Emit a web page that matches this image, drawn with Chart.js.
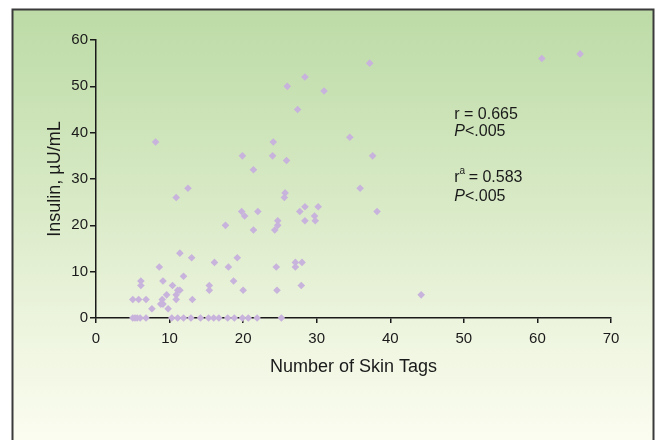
<!DOCTYPE html>
<html>
<head>
<meta charset="utf-8">
<script src="https://cdn.jsdelivr.net/npm/chart.js@4"></script>
<style>
  html, body { margin: 0; padding: 0; background: #fff; }
  #wrap { width: 657px; height: 440px; }
</style>
</head>
<body>
<div id="wrap"><canvas id="chart" width="657" height="440"></canvas></div>
<script>
/* ===== data ===== */
const skinTags = [
  65.8, 60.6, 37.2, 28.4, 26.0, 31.0, 27.4, 8.1, 34.5, 24.1,
  19.9, 24.0, 37.6, 25.9, 21.4, 12.5, 35.9, 25.7, 25.6, 10.9,
  30.2, 28.4, 27.7, 19.8, 22.0, 38.2, 29.7, 20.2, 24.7, 28.4,
  29.8, 24.7, 17.6, 21.4, 24.3, 11.4, 13.0, 19.2, 16.1, 27.1,
  28.0, 8.6, 18.0, 24.5, 27.1, 11.9, 6.1, 9.1, 18.7, 6.1,
  10.4, 15.4, 27.9, 11.1, 11.4, 15.4, 20.0, 24.6, 9.6, 10.9,
  44.2, 5.0, 5.8, 6.8, 10.9, 13.1, 9.0, 8.8, 9.1, 7.6,
  9.8,
  5.0, 5.3, 5.6, 6.0, 6.8, 10.3, 11.1, 11.9, 12.9, 14.2,
  15.3, 16.0, 16.7, 17.9, 18.8, 19.9, 20.7, 21.9, 25.2
];
const insulin = [
  57, 56, 55, 52, 50, 49, 45, 38, 39, 38,
  35, 35, 35, 34, 32, 28, 28, 27, 26, 26,
  24, 24, 23, 23, 23, 23, 22, 22, 21, 21,
  21, 20, 20, 19, 19, 14, 13, 13, 12, 12,
  12, 11, 11, 11, 11, 9, 8, 8, 8, 7,
  7, 7, 7, 6, 6, 6, 6, 6, 5, 5,
  5, 4, 4, 4, 4, 4, 4, 3, 3, 2,
  2,
  0, 0, 0, 0, 0, 0, 0, 0, 0, 0,
  0, 0, 0, 0, 0, 0, 0, 0, 0
];
const xTicks = [0, 10, 20, 30, 40, 50, 60, 70];
const yTicks = [0, 10, 20, 30, 40, 50, 60];
const statLines = [
  { main: "r = 0.665", sup: "", italicP: false },
  { main: "<.005", sup: "", italicP: true },
  { main: "r", sup: "a", rest: " = 0.583", italicP: false },
  { main: "<.005", sup: "", italicP: true }
];

const FONT = "'Liberation Sans', Arial, Helvetica, sans-serif";
const INK = "#1a1a1a";

/* ===== panel background ===== */
const panelBg = {
  id: "panelBg",
  beforeDraw(chart) {
    const ctx = chart.ctx;
    ctx.save();
    ctx.fillStyle = "#fff";
    ctx.fillRect(0, 0, chart.width, chart.height);
    const g = ctx.createLinearGradient(0, 9, 0, 440);
    g.addColorStop(0, "#bcdba6");
    g.addColorStop(0.4, "#d5e8c2");
    g.addColorStop(0.72, "#ecf4dd");
    g.addColorStop(1, "#fbfdf0");
    ctx.fillStyle = g;
    ctx.fillRect(12, 9, 641, 500);
    ctx.strokeStyle = "#3a3a3a";
    ctx.lineWidth = 2;
    ctx.strokeRect(12.5, 9.5, 641, 500);
    ctx.restore();
  }
};

/* ===== r / P annotations ===== */
const stats = {
  id: "stats",
  afterDraw(chart) {
    const { ctx, scales: { x, y } } = chart;
    const left = x.getPixelForValue(48.7);
    const baselines = [43.0, 39.2, 29.3, 25.2].map(v => y.getPixelForValue(v));
    ctx.save();
    ctx.fillStyle = INK;
    ctx.textBaseline = "alphabetic";
    ctx.textAlign = "left";
    statLines.forEach((ln, i) => {
      let cx = left;
      const by = baselines[i];
      if (ln.italicP) {
        ctx.font = "italic 16px " + FONT;
        ctx.fillText("P", cx, by);
        cx += ctx.measureText("P").width;
      }
      ctx.font = "16px " + FONT;
      ctx.fillText(ln.main, cx, by);
      cx += ctx.measureText(ln.main).width;
      if (ln.sup) {
        ctx.font = "10px " + FONT;
        ctx.fillText(ln.sup, cx, by - 8);
        cx += ctx.measureText(ln.sup).width - 1;
        ctx.font = "16px " + FONT;
        ctx.fillText(ln.rest, cx, by);
      }
    });
    ctx.restore();
  }
};

const axisCommon = {
  border: { display: true, color: INK, width: 1.5 },
  grid: { display: true, drawOnChartArea: false, drawTicks: true, color: INK, lineWidth: 1.5 }
};

new Chart(document.getElementById("chart"), {
  type: "scatter",
  data: {
    datasets: [{
      data: skinTags.map((v, i) => ({ x: v, y: insulin[i] })),
      pointStyle: "rectRot",
      pointRadius: 3.8,
      pointHoverRadius: 3.8,
      backgroundColor: "#c8b3dc",
      borderWidth: 0,
      clip: false
    }]
  },
  options: {
    responsive: false,
    animation: false,
    devicePixelRatio: 1,
    layout: { padding: { left: 0, top: 40, right: 46, bottom: 62 } },
    plugins: { legend: { display: false }, tooltip: { enabled: false } },
    scales: {
      x: {
        type: "linear",
        min: 0, max: 70,
        ...axisCommon,
        grid: { ...axisCommon.grid, tickLength: 5 },
        afterBuildTicks: s => { s.ticks = xTicks.map(v => ({ value: v })); },
        afterFit: s => { s.height = 60; },
        ticks: { color: INK, padding: 7, font: { family: FONT, size: 15 }, maxRotation: 0 },
        title: {
          display: true, text: "Number of Skin Tags", color: INK,
          font: { family: FONT, size: 18 }, padding: { top: 0, bottom: 0 }
        }
      },
      y: {
        type: "linear",
        min: 0, max: 60,
        ...axisCommon,
        grid: { ...axisCommon.grid, tickLength: 6 },
        afterBuildTicks: s => { s.ticks = yTicks.map(v => ({ value: v })); },
        afterFit: s => { s.width = 96; },
        ticks: { color: INK, padding: 2, font: { family: FONT, size: 15 } },
        title: {
          display: true, text: "Insulin, \u00b5U/mL", color: INK,
          font: { family: FONT, size: 18 }, padding: { top: 44, bottom: 0 }
        }
      }
    }
  },
  plugins: [panelBg, stats]
});
</script>
</body>
</html>
